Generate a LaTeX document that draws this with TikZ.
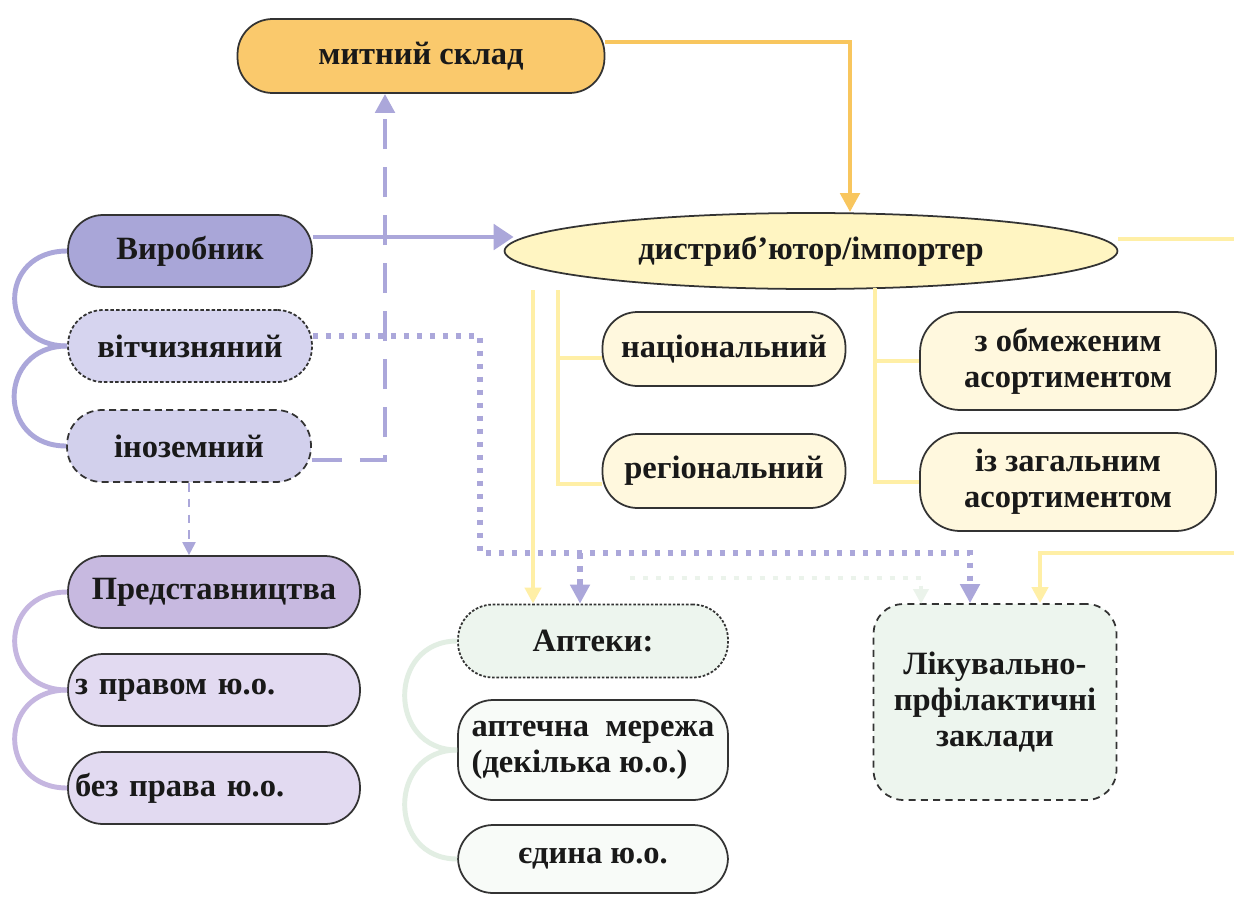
\documentclass[tikz,border=0pt]{standalone}
\usepackage{fontspec}
\setmainfont{Liberation Serif}
\usetikzlibrary{arrows.meta,shapes.geometric}

\definecolor{skladfill}{HTML}{FAC96C}
\definecolor{orline}{HTML}{F8C65E}
\definecolor{vyrobfill}{HTML}{A9A6D8}
\definecolor{vitchfill}{HTML}{D6D4EF}
\definecolor{inozfill}{HTML}{D2D0EC}
\definecolor{lavline}{HTML}{ABA7DA}
\definecolor{predstfill}{HTML}{C7B9E0}
\definecolor{pravofill}{HTML}{E2DAF1}
\definecolor{purline}{HTML}{C5B6E0}
\definecolor{distrfill}{HTML}{FFF5C2}
\definecolor{creamfill}{HTML}{FFF8DE}
\definecolor{yelline}{HTML}{FFEFA6}
\definecolor{grnfill}{HTML}{EDF5EE}
\definecolor{grnline}{HTML}{E2EEE3}

\tikzset{
	box/.style={draw=black!80, line width=1pt, rounded corners=0.7cm, inner sep=0pt, align=center,
		text=black!90, font=\bfseries\fontsize{18.5}{20.5}\selectfont, minimum height=1.44cm},
	lavbox/.style={box, minimum width=4.88cm},
	purbox/.style={box, minimum width=5.84cm, text width=5.56cm, inner xsep=0.14cm, align=left},
	crbox/.style={box, fill=creamfill, minimum width=4.86cm, minimum height=1.48cm},
	asbox/.style={box, fill=creamfill, minimum width=5.92cm, minimum height=1.96cm, rounded corners=0.8cm},
	grbox/.style={box, fill=grnfill, minimum width=5.4cm},
	tip/.style={-{Triangle[length=#1, width=#1]}},
	tip/.default=0.38cm,
	orpath/.style={draw=orline, line width=2.8pt},
	lavpath/.style={draw=lavline, line width=2.8pt},
	dotpath/.style={lavpath, line width=3.2pt, dash pattern=on 0.11cm off 0.15cm},
	yelpath/.style={draw=yelline, line width=2.4pt},
	ghostpath/.style={draw=grnline!70, line width=2.4pt, dash pattern=on 0.1cm off 0.16cm},
	lavcurl/.style={draw=lavline, line width=2.8pt},
	purcurl/.style={draw=purline, line width=2.8pt},
	grncurl/.style={draw=grnline, line width=2.8pt},
}
\newcommand{\curl}[3]{\draw[#1] (#2.west) .. controls +(-70,0) and +(-70,0) .. (#3.west);}

\begin{document}
\begin{tikzpicture}[x=0.02cm, y=-0.02cm]
	\useasboundingbox[fill=white] (0,0) rectangle (1234,896);

	\node[box, fill=skladfill, minimum width=7.34cm, minimum height=1.48cm] (sklad) at (421,56) {митний склад};

	\node[lavbox, fill=vyrobfill] (vyrob) at (190,251) {Виробник};
	\node[lavbox, fill=vitchfill, dash pattern=on 2pt off 1.2pt] (vitch) at (190,346) {вітчизняний};
	\node[lavbox, fill=inozfill, dash pattern=on 4pt off 2.5pt] (inoz) at (189,446) {іноземний};

	\node[box, fill=predstfill, minimum width=5.84cm] (predst) at (214,592) {Представництва};
	\node[purbox, fill=pravofill] (zpravom) at (214,690) {з правом ю.о.};
	\node[purbox, fill=pravofill] (bezprava) at (214,788) {без права ю.о.};

	\node[ellipse, draw=black!80, line width=1pt, fill=distrfill, inner sep=0pt, text=black!90,
		font=\bfseries\fontsize{18.5}{20.5}\selectfont, minimum width=12.26cm, minimum height=1.52cm] (distr) at (811,251) {дистриб’ютор/імпортер};

	\node[crbox] (nats) at (724,349) {національний};
	\node[crbox] (reg) at (724,471) {регіональний};
	\node[asbox] (obmezh) at (1068,361) {з обмеженим\\асортиментом};
	\node[asbox] (zahal) at (1068,482) {із загальним\\асортиментом};

	\node[grbox, minimum height=1.46cm, dash pattern=on 1.5pt off 1pt] (apteky) at (593,641) {Аптеки:};
	\node[grbox, fill=grnfill!40, minimum height=2cm, align=left] (merezha) at (593,750) {аптечна\ \ мережа\\(декілька ю.о.)};
	\node[grbox, fill=grnfill!40, minimum height=1.36cm] (yedyna) at (593,859) {єдина ю.о.};

	\node[box, fill=grnfill, minimum width=4.86cm, minimum height=3.92cm, rounded corners=0.6cm,
		dash pattern=on 4pt off 3pt] (likzak) at (995,702) {Лікувально-\\прфілактичні\\заклади};

	\draw[orpath, tip] ([yshift=0.28cm]sklad.east) -| ([xshift=0.78cm]distr.north);
	\draw[lavpath, -{Triangle[length=0.4cm, width=0.5cm]}] ([yshift=0.28cm]vyrob.east) -- ([xshift=0.2cm, yshift=0.28cm]distr.west);
	\draw[lavpath, dash pattern=on 0.6cm off 0.36cm, tip] ([yshift=-0.28cm]inoz.east) -| ([xshift=-0.72cm]sklad.south);
	\draw[draw=lavline, line width=1.2pt, dash pattern=on 5pt off 4pt, tip=0.26cm] (inoz.south) -- (inoz.south |- predst.north);

	\coordinate (dotA) at (480,553);
	\coordinate (dotB) at (580,553);
	\draw[dotpath, tip] ([yshift=0.2cm]vitch.east) -| (dotA) -| ([xshift=-0.5cm]likzak.north);
	\draw[dotpath, tip] (dotB) -- (dotB |- apteky.north);

	\coordinate (ghA) at (630,578);
	\coordinate (ghB) at (921,604);
	\draw[ghostpath, tip=0.3cm] (ghA) -| (ghB);

	\coordinate (yA) at (533,290);
	\coordinate (yB) at (558,290);
	\coordinate (yC) at (875,288);
	\coordinate (yR) at (1250,553);
	\draw[yelpath, tip=0.32cm] (yA) -- (yA |- apteky.north);
	\draw[yelpath] (yB) |- ([yshift=-0.26cm]reg.west);
	\draw[yelpath] ([yshift=-0.18cm]nats.west) -- +(-45,0);
	\draw[yelpath] (yC) |- (zahal.west);
	\draw[yelpath] (obmezh.west) -- +(-45,0);
	\draw[yelpath, tip=0.32cm] ([yshift=0.24cm]distr.east) -| (yR) -| ([xshift=0.9cm]likzak.north);

	\curl{lavcurl}{vyrob}{vitch}
	\curl{lavcurl}{vitch}{inoz}
	\curl{purcurl}{predst}{zpravom}
	\curl{purcurl}{zpravom}{bezprava}
	\curl{grncurl}{apteky}{merezha}
	\curl{grncurl}{merezha}{yedyna}
\end{tikzpicture}
\end{document}
